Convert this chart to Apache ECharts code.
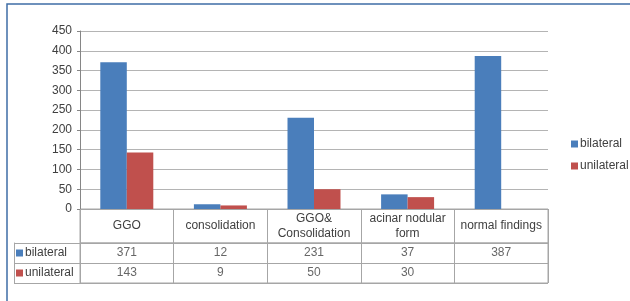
<!DOCTYPE html>
<html>
<head>
<meta charset="utf-8">
<script src="https://cdn.jsdelivr.net/npm/echarts@6/dist/echarts.min.js"></script>
<style>
  html, body { margin: 0; padding: 0; background: #fff; }
  #chart { width: 630px; height: 301px; }
</style>
</head>
<body>
<div id="chart"></div>
<script>
  'use strict'

  // data
  var categories = ['GGO', 'consolidation', 'GGO&\nConsolidation', 'acinar nodular\nform', 'normal findings']
  var bilateral = [371, 12, 231, 37, 387]
  var unilateral = [143, 9, 50, 30, null]
  var rowNames = ['bilateral', 'unilateral']
  var yTicks = { min: 0, max: 450, interval: 50 }

  var blue = '#4a7ebb'
  var red = '#c0504d'
  var textColor = '#404040'
  var tableLine = '#a6a6a6'
  var font = 'Liberation Sans'
  var fs = 12

  // table cells: one point per (category, row) that has a value
  function tableCells() {
    var cells = []
    var rows = [bilateral, unilateral]
    rows.forEach((vals, r) => {
      vals.forEach((v, i) => {
        if (v != null) cells.push([i, r, v])
      })
    })
    return cells
  }

  var chart = echarts.init(document.getElementById('chart'), null, { renderer: 'canvas' })

  var option = {
    animation: false,
    textStyle: { fontFamily: font, color: textColor, fontSize: fs },
    graphic: [
      {
        type: 'rect',
        shape: { x: 7, y: 4, width: 700, height: 400 },
        style: { fill: 'none', stroke: '#3f6ea6', lineWidth: 1.5 },
      },
    ],
    legend: {
      data: ['bilateral', 'unilateral'],
      orient: 'vertical',
      left: 566,
      top: 133,
      itemWidth: 7,
      itemHeight: 7,
      itemGap: 10,
      icon: 'rect',
      textStyle: { fontFamily: font, color: textColor, fontSize: fs, padding: [0, 0, 0, -3] },
    },
    grid: [
      // chart area
      { left: 80, width: 468, top: 31, height: 178 },
      // header row of the data table
      { left: 80, width: 468, top: 209, height: 34, show: true, borderColor: tableLine, borderWidth: 1 },
      // value rows of the data table
      { left: 80, width: 468, top: 243, height: 40, show: true, borderColor: tableLine, borderWidth: 1 },
    ],
    xAxis: [
      {
        type: 'category',
        gridIndex: 0,
        data: categories,
        axisLine: { show: true, lineStyle: { color: tableLine } },
        axisTick: { show: false },
        axisLabel: {
          margin: 17,
          verticalAlign: 'middle',
          color: textColor,
          fontFamily: font,
          fontSize: fs,
          lineHeight: 15,
          interval: 0,
        },
      },
      {
        type: 'category',
        gridIndex: 1,
        data: categories,
        axisLine: { show: false },
        axisTick: { show: false },
        axisLabel: { show: false },
        splitLine: { show: true, interval: 0, lineStyle: { color: tableLine } },
      },
      {
        type: 'category',
        gridIndex: 2,
        data: categories,
        axisLine: { show: false },
        axisTick: { show: false },
        axisLabel: { show: false },
        splitLine: { show: true, interval: 0, lineStyle: { color: tableLine } },
      },
    ],
    yAxis: [
      {
        type: 'value',
        gridIndex: 0,
        min: yTicks.min,
        max: yTicks.max,
        interval: yTicks.interval,
        axisLine: { show: true, lineStyle: { color: '#868686' } },
        axisTick: { show: true, length: 3, lineStyle: { color: '#868686' } },
        axisLabel: { margin: 8, color: textColor, fontFamily: font, fontSize: fs },
        splitLine: { lineStyle: { color: '#b4b4b4', width: 1 } },
      },
      {
        type: 'value',
        gridIndex: 1,
        show: false,
      },
      {
        type: 'category',
        gridIndex: 2,
        data: rowNames,
        inverse: true,
        axisLine: { show: false },
        axisTick: { show: true, length: 66, lineStyle: { color: tableLine } },
        splitLine: { show: true, lineStyle: { color: tableLine } },
        axisLabel: {
          align: 'left',
          margin: 64,
          formatter: name => `{${name === 'bilateral' ? 'b' : 'u'}|}{t|${name}}`,
          rich: {
            b: { width: 7, height: 7, backgroundColor: blue },
            u: { width: 7, height: 7, backgroundColor: red },
            t: { color: textColor, fontFamily: font, fontSize: fs, padding: [0, 0, 0, 2] },
          },
        },
      },
      {
        // left edge of the row-name column
        type: 'category',
        gridIndex: 2,
        data: rowNames,
        position: 'left',
        offset: 66,
        axisLine: { show: true, lineStyle: { color: tableLine } },
        axisTick: { show: false },
        axisLabel: { show: false },
      },
    ],
    series: [
      {
        name: 'bilateral',
        type: 'bar',
        xAxisIndex: 0,
        yAxisIndex: 0,
        data: bilateral,
        barWidth: 26.5,
        barGap: '0%',
        itemStyle: { color: blue },
      },
      {
        name: 'unilateral',
        type: 'bar',
        xAxisIndex: 0,
        yAxisIndex: 0,
        data: unilateral,
        barWidth: 26.5,
        barGap: '0%',
        itemStyle: { color: red },
      },
      {
        name: 'table',
        type: 'scatter',
        xAxisIndex: 2,
        yAxisIndex: 2,
        data: tableCells(),
        symbolSize: 0,
        itemStyle: { color: 'rgba(0,0,0,0)' },
        silent: true,
        label: {
          show: true,
          position: 'inside',
          formatter: p => String(p.value[2]),
          color: textColor,
          fontFamily: font,
          fontSize: fs,
        },
      },
    ],
  }

  chart.setOption(option)
</script>
</body>
</html>
